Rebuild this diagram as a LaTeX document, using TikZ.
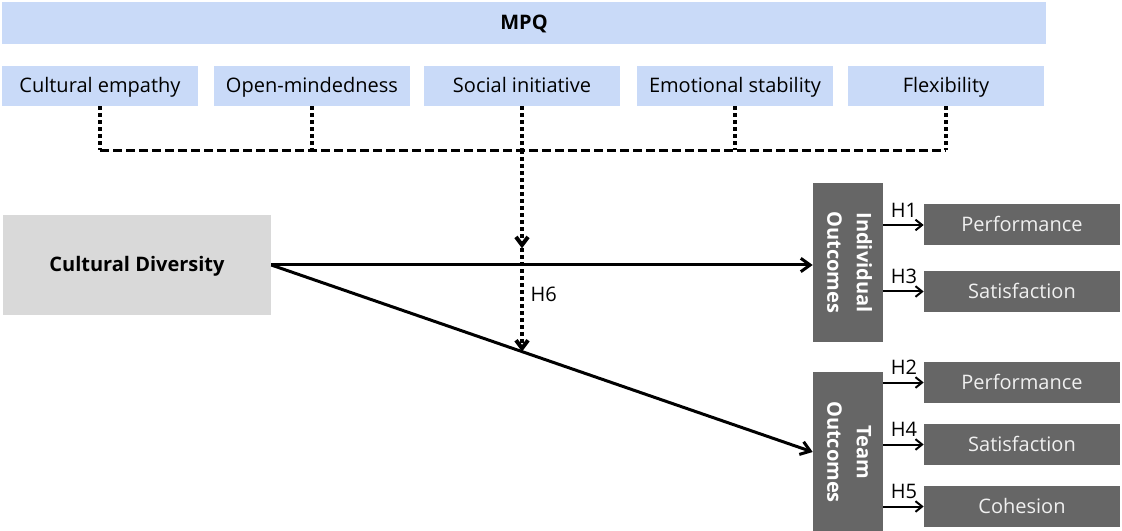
\documentclass[tikz,border=0pt]{standalone}
\usepackage{fontspec}
\setmainfont{Open Sans}
\usetikzlibrary{arrows.meta, positioning, calc}
\definecolor{cmpq}{HTML}{C9DAF8}
\definecolor{clight}{HTML}{D9D9D9}
\definecolor{cdark}{HTML}{666666}
\definecolor{ctext}{HTML}{F0F0F0}
\newcommand{\vtext}[1]{\rotatebox[origin=c]{-90}{\begin{tabular}{@{}c@{}}#1\end{tabular}}}
\tikzset{
  every picture/.style={font=\fontsize{15}{18}\selectfont},
  txt/.style={text height=13pt, text depth=2.5pt},
  trait/.style={txt, fill=cmpq, minimum width=147pt, minimum height=30pt, inner sep=0pt},
  outbox/.style={txt, fill=cdark, text=ctext, minimum width=147pt, minimum height=30.75pt, inner sep=0pt},
  group/.style={fill=cdark, text=white, font=\fontsize{15}{22}\selectfont\bfseries,
    minimum width=52.5pt, minimum height=119.25pt, inner sep=0pt},
  dots/.style={line width=3pt, dash pattern=on 3pt off 2.25pt},
  dashline/.style={line width=2.6pt, dash pattern=on 6.75pt off 3pt},
  main/.style={-{Straight Barb[length=7pt, width=10pt]}, line width=2.25pt},
  small/.style={-{Straight Barb[length=5pt, width=8pt]}, line width=1.5pt},
  hlab/.style={font=\fontsize{15}{18}\selectfont, inner sep=1pt},
}
\begin{document}
\begin{tikzpicture}[x=0.75pt, y=-0.75pt]
  \useasboundingbox (0,0) rectangle (1122,531);
  % moderator
  \node[txt, fill=cmpq, minimum width=783pt, minimum height=31.5pt, inner sep=0pt, font=\fontsize{15}{18}\selectfont\bfseries] (mpq) at (524,23) {MPQ};
  \foreach \w/\x [count=\k] in {Cultural empathy/100, Open-mindedness/312, Social initiative/522, Emotional stability/735, Flexibility/946}
    \node[trait] (t\k) at (\x,86) {\w};
  \foreach \k in {1,...,5} {
    \coordinate (j\k) at ($(t\k.south)+(0,44)$);
    \draw[dots] (t\k.south) -- (j\k);
  }
  \draw[dashline] (j1) -- (j5);
  % predictor and outcomes
  \node[txt, fill=clight, minimum width=201pt, minimum height=75pt, inner sep=0pt, font=\fontsize{15}{18}\selectfont\bfseries] (cd) at (137,265) {Cultural Diversity};
  \node[group] (io) at (848,262.5) {\vtext{Individual\\Outcomes}};
  \node[group, minimum height=120pt] (to) at (848,452) {\vtext{Team\\Outcomes}};
  \foreach \w/\y [count=\k] in {Performance/225, Satisfaction/291.5, Performance/382.5, Satisfaction/444.5, Cohesion/506.5}
    \node[outbox] (o\k) at (1022,\y) {\w};
  \draw[main] (cd.east) -- (cd.east -| io.west);
  \draw[main] (cd.east) -- (to.west);
  \foreach \k/\h in {1/H1, 2/H3} \draw[small] (io.east |- o\k.west) node[hlab, above right=4pt and 4pt] {\h} -- (o\k.west);
  \foreach \k/\h in {3/H2, 4/H4, 5/H5} \draw[small] (to.east |- o\k.west) node[hlab, above right=4pt and 4pt] {\h} -- (o\k.west);
  % moderation path
  \coordinate (a1) at ($(j3)+(0,98)$);
  \coordinate (a2) at ($(cd.east)!0.463!(to.west)$);
  \draw[dots, -{Straight Barb[length=6pt, width=9pt]}] (j3) -- (a1);
  \draw[dots, -{Straight Barb[length=6pt, width=9pt]}] (a1) -- (a2 -| a1) node[pos=0.45, right=4pt, hlab] {H6};
\end{tikzpicture}
\end{document}
